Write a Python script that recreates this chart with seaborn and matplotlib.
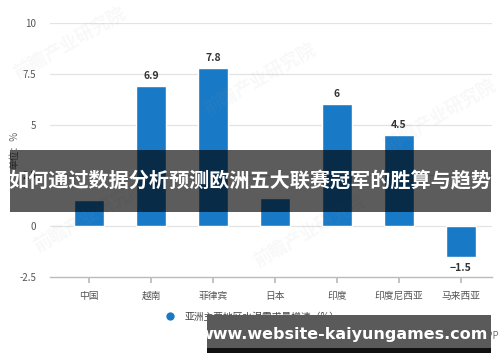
import matplotlib
matplotlib.use("Agg")
import matplotlib.pyplot as plt
import seaborn as sns
import pandas as pd
from matplotlib.lines import Line2D
from matplotlib.patches import Rectangle

categories = ["中国", "越南", "菲律宾", "日本", "印度", "印度尼西亚", "马来西亚"]
values = [1.3, 6.9, 7.8, 1.4, 6.0, 4.5, -1.5]
labels = ["", "6.9", "7.8", "", "6", "4.5", "-1.5"]
yticks = [-2.5, 0, 2.5, 5, 7.5, 10]
ytick_labels = ["-2.5", "0", "2.5", "5", "7.5", "10"]
series_name = "亚洲主要地区水泥需求量增速（%）"
banner_text = "如何通过数据分析预测欧洲五大联赛冠军的胜算与趋势"
site_text = "www.website-kaiyungames.com"

sns.set_theme(style="white")
plt.rcParams['font.family'] = ['Noto Sans CJK SC', 'DejaVu Sans']

df = pd.DataFrame({"cat": categories, "val": values})
bar_color = "#1879c6"

fig = plt.figure(figsize=(5, 3.62), dpi=100)
ax = fig.add_axes([0.10, 0.2348, 0.884, 0.7017])
sns.barplot(data=df, x="cat", y="val", color=bar_color, width=0.47, ax=ax, saturation=1)

ax.set_xlim(-0.63, 6.5)
ax.set_ylim(-2.5, 10)
ax.set_yticks(yticks)
ax.set_yticklabels(ytick_labels, fontsize=7, color="#555555")
ax.set_xlabel("")
ax.set_ylabel("单位：%", fontsize=7, color="#666666")
ax.yaxis.set_label_coords(-0.068, 0.5)
for y in yticks[1:]:
    ax.axhline(y, color="#e3e3e3", lw=0.9, zorder=0)
for s in ["top", "right", "left"]:
    ax.spines[s].set_visible(False)
ax.spines["bottom"].set_color("#bbbbbb")
ax.spines["bottom"].set_linewidth(1.0)
ax.spines["bottom"].set_position(("data", -2.5))
ax.tick_params(axis="x", bottom=True, length=4, color="#bbbbbb", labelsize=7, labelcolor="#555555", pad=6)
ax.tick_params(axis="y", left=False, pad=4)

for i, (v, lab) in enumerate(zip(values, labels)):
    if not lab:
        continue
    if v >= 0:
        ax.text(i, v + 0.25, lab, ha="center", va="bottom", fontsize=7.5, fontweight="bold", color="#333333")
    else:
        ax.text(i, v - 0.3, lab.replace("-", "−"), ha="center", va="top", fontsize=7.5, fontweight="bold", color="#333333")

# faint watermarks
for (wx, wy) in [(0.14, 0.88), (0.52, 0.78), (0.88, 0.68), (0.62, 0.36), (0.18, 0.40)]:
    fig.text(wx, wy, "前瞻产业研究院", fontsize=13, fontweight="bold", color="#9aa4b0", alpha=0.07, rotation=30, ha="center", va="center")

# legend
handle = Line2D([0], [0], marker="o", color="w", markerfacecolor=bar_color, markersize=7, lw=0)
fig.legend([handle], [series_name], loc="center", bbox_to_anchor=(0.50, 0.125), frameon=False,
           fontsize=7, handletextpad=0.4, labelcolor="#444444")
fig.text(0.998, 0.073, "前瞻经济学人APP", fontsize=7, color="#777777", ha="right", va="center")

# banner overlay
fig.patches.append(Rectangle((0.02, (362 - 212) / 362), 0.962, 62 / 362, transform=fig.transFigure,
                             facecolor="black", alpha=0.64, edgecolor="none", zorder=10))
fig.text(0.50, (362 - 181) / 362, banner_text, fontsize=14.5, fontweight="bold", color="white",
         ha="center", va="center", zorder=11)

# site box
fig.patches.append(Rectangle((207 / 500, (362 - 353) / 362), 284 / 500, 38 / 362, transform=fig.transFigure,
                             facecolor="#5a5a5a", edgecolor="none", zorder=10))
fig.patches.append(Rectangle((207 / 500, (362 - 353) / 362), 284 / 500, 5 / 362, transform=fig.transFigure,
                             facecolor="#111111", edgecolor="none", zorder=10))
fig.text(343 / 500, (362 - 335) / 362, site_text, fontsize=11.5, fontweight="bold", color="white",
         ha="center", va="center", family="DejaVu Sans", zorder=11)

fig.savefig("out.png", dpi=100)
